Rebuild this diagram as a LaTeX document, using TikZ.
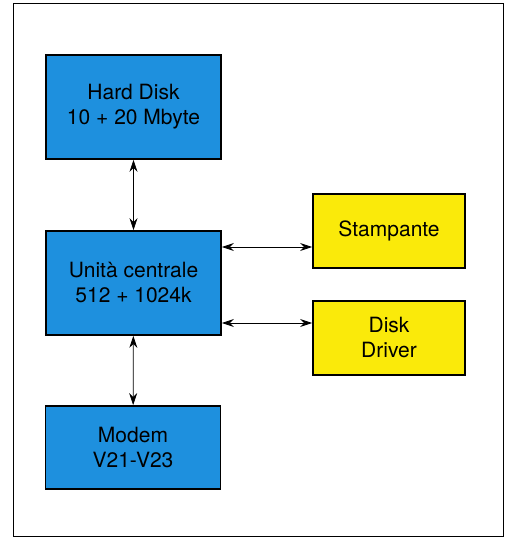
\documentclass[tikz,border=0pt]{standalone}
\usepackage{fontspec}
\setmainfont{TeX Gyre Heros}
\usepackage{tikz}
\usetikzlibrary{arrows.meta,positioning}

\definecolor{boxblue}{RGB}{30,144,222}
\definecolor{boxyellow}{RGB}{250,234,10}

\begin{document}
\begin{tikzpicture}[x=1pt,y=1pt,>={Stealth[length=12pt,width=8pt]}]
	\tikzset{unit/.style={draw=black,line width=1.8pt,fill=boxblue,align=center,inner sep=0pt,
		minimum width=175pt,font=\fontsize{21}{25}\selectfont}}
	\tikzset{periph/.style={draw=black,line width=1.8pt,fill=boxyellow,align=center,inner sep=0pt,
		minimum width=152pt,minimum height=74pt,font=\fontsize{21}{25}\selectfont}}
	\tikzset{link/.style={<->,line width=0.8pt}}
	\useasboundingbox (0,0) rectangle (506,538);
	\draw[line width=1pt] (13,1) rectangle (503,534);
	\node[unit,minimum height=104pt] (H) at (133.5,431) {Hard Disk\\10 + 20 Mbyte};
	\node[unit,minimum height=104pt] (C) at (133.5,255) {Unità centrale\\512 + 1024k};
	\node[unit,minimum height=83pt]  (M) at (133,90.5)  {Modem\\V21-V23};
	\node[periph] (S) at (389,307) {Stampante};
	\node[periph] (D) at (389,200) {Disk\\Driver};
	\path
	(H)     edge [link]   (C)
	(C)     edge [link]   (M)
	([yshift=36pt]C.east)  edge [link]  ([yshift=-16pt]S.west)
	([yshift=-40pt]C.east) edge [link]  ([yshift=15pt]D.west);
\end{tikzpicture}
\end{document}
